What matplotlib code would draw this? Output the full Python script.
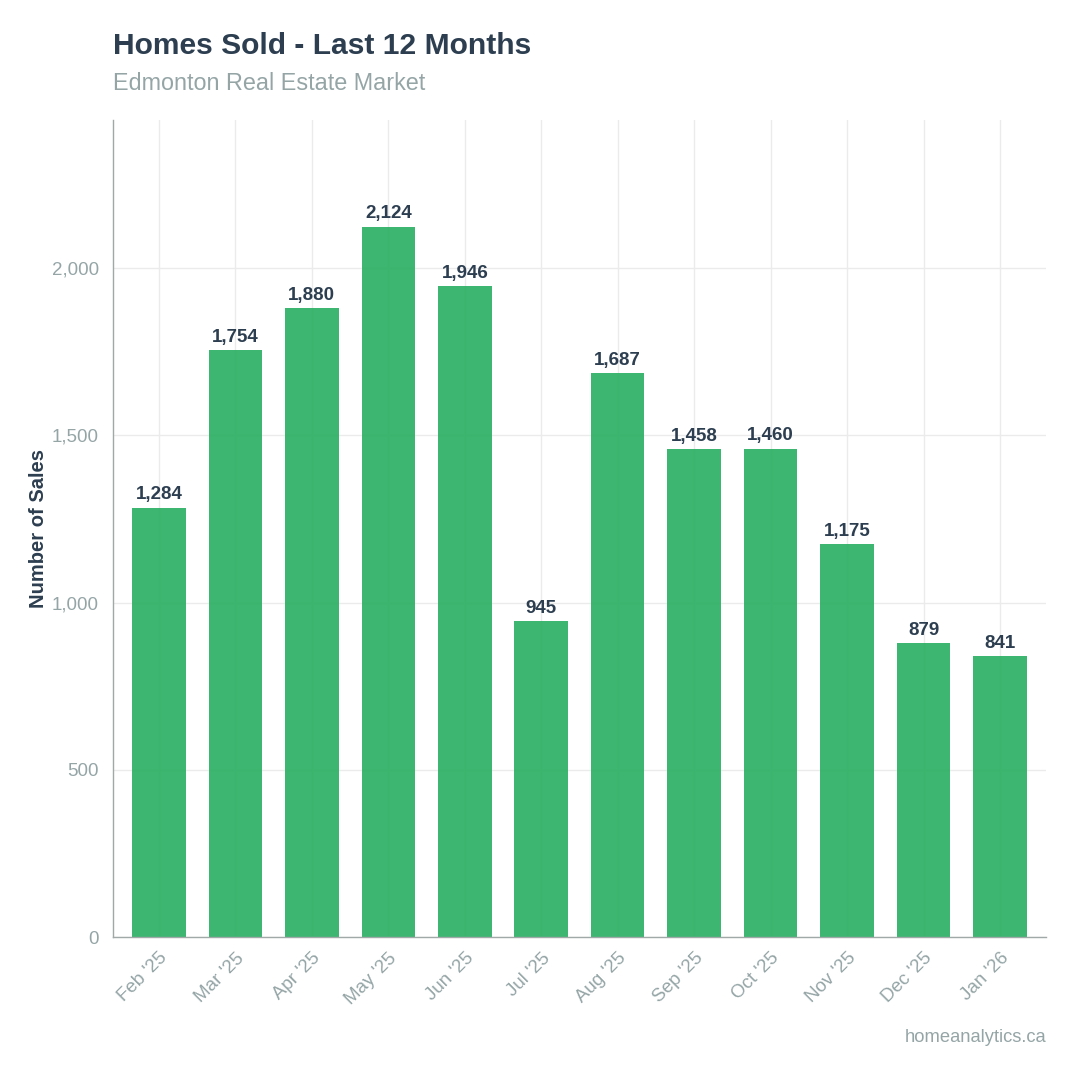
import matplotlib
matplotlib.use('Agg')
import matplotlib.pyplot as plt

# Monthly home sales, Edmonton
months = ["Feb '25", "Mar '25", "Apr '25", "May '25", "Jun '25", "Jul '25",
          "Aug '25", "Sep '25", "Oct '25", "Nov '25", "Dec '25", "Jan '26"]
sales = [1284, 1754, 1880, 2124, 1946, 945, 1687, 1458, 1460, 1175, 879, 841]
yticks = [0, 500, 1000, 1500, 2000]

dark = '#2c3e50'
gray = '#95a5a6'
green = '#27ae60'

plt.rcParams['font.family'] = ['Liberation Sans', 'DejaVu Sans']

fig = plt.figure(figsize=(10.8, 10.8), dpi=100)
ax = fig.add_axes([0.1046, 0.1324, 0.8639, 0.7565])

x = list(range(len(months)))
bars = ax.bar(x, sales, width=0.7, color=green, alpha=0.9, zorder=2)

for xi, v in zip(x, sales):
    ax.annotate(f'{v:,}', (xi, v), xytext=(0, 3), textcoords='offset points',
                ha='center', va='bottom', fontsize=13.5, fontweight='bold', color=dark)

ax.set_xlim(-0.6, len(months) - 0.4)
ax.set_ylim(0, max(sales) * 1.15)
ax.set_yticks(yticks)
ax.set_yticklabels([f'{t:,}' for t in yticks])
ax.set_xticks(x)
ax.set_xticklabels(months, rotation=45, ha='right', rotation_mode='anchor')

ax.tick_params(axis='both', length=0, labelsize=13.5, labelcolor=gray)
ax.tick_params(axis='x', pad=9)
ax.tick_params(axis='y', pad=10)

ax.grid(True, color='#ebebeb', linewidth=1, zorder=0)
ax.set_axisbelow(True)
for s in ['top', 'right']:
    ax.spines[s].set_visible(False)
for s in ['left', 'bottom']:
    ax.spines[s].set_color('#a0a8a8')
    ax.spines[s].set_linewidth(1)

ax.set_ylabel('Number of Sales', fontsize=14.5, fontweight='bold', color=dark)
ax.yaxis.set_label_coords(-0.0697, 0.5)

fig.text(0.1046, 1 - 46 / 1080, 'Homes Sold - Last 12 Months', fontsize=21.6,
         fontweight='bold', color=dark, va='center', ha='left')
fig.text(0.1046, 1 - 83 / 1080, 'Edmonton Real Estate Market', fontsize=16.8,
         color=gray, va='center', ha='left')
fig.text(1046 / 1080, 1 - 1037 / 1080, 'homeanalytics.ca', fontsize=13.2,
         color=gray, va='center', ha='right')

fig.savefig('out.png', dpi=100, facecolor='white')
